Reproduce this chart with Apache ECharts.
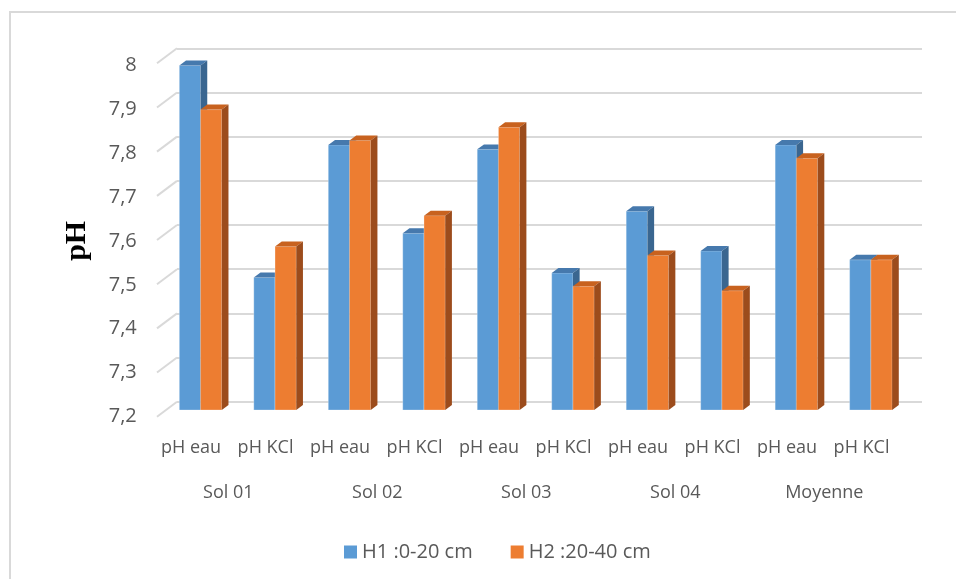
<!DOCTYPE html>
<html>
<head>
<meta charset="utf-8">
<script src="https://cdn.jsdelivr.net/npm/echarts@6/dist/echarts.min.js"></script>
<style>
  html, body { margin: 0; padding: 0; background: #fff; }
  #chart { width: 956px; height: 579px; }
</style>
</head>
<body>
<div id="chart"></div>
<script>
// donnees
var subCats = ['pH eau', 'pH KCl', 'pH eau', 'pH KCl', 'pH eau', 'pH KCl', 'pH eau', 'pH KCl', 'pH eau', 'pH KCl'];
var groups = ['Sol 01', 'Sol 02', 'Sol 03', 'Sol 04', 'Moyenne'];
var h1 = [7.98, 7.50, 7.80, 7.60, 7.79, 7.51, 7.65, 7.56, 7.80, 7.54];
var h2 = [7.88, 7.57, 7.81, 7.64, 7.84, 7.48, 7.55, 7.47, 7.77, 7.54];
var yTicks = [7.2, 7.3, 7.4, 7.5, 7.6, 7.7, 7.8, 7.9, 8];
var seriesNames = ['H1 :0-20 cm', 'H2 :20-40 cm'];

var YMIN = 7.2, YMAX = 8;
var txt = '#595959';
var font = 'Open Sans';

// couleurs face avant / dessus / cote
var faces = [
    { front: '#5b9bd5', top: '#4679ad', side: '#3a6690' },
    { front: '#ed7d31', top: '#c8621f', side: '#9c4c1c' }
];

function barRenderer(s) {
    return function (params, api) {
        var top = api.coord([api.value(0), api.value(1)]);
        var base = api.coord([api.value(0), YMIN]);
        var band = api.size([1, 0])[0];
        var w = band * 0.285;
        var dx = band * 0.09, dy = band * 0.067;
        var x0 = top[0] - w + s * w;
        var c = faces[s];
        return {
            type: 'group',
            children: [{
                type: 'rect',
                shape: { x: x0, y: top[1], width: w, height: base[1] - top[1] },
                style: { fill: c.front, stroke: 'rgba(255,255,255,0.35)', lineWidth: 0.8 }
            }, {
                type: 'polygon',
                shape: { points: [[x0, top[1]], [x0 + w, top[1]], [x0 + w + dx, top[1] - dy], [x0 + dx, top[1] - dy]] },
                style: { fill: c.top }
            }, {
                type: 'polygon',
                shape: { points: [[x0 + w, top[1]], [x0 + w + dx, top[1] - dy], [x0 + w + dx, base[1] - dy], [x0 + w, base[1]]] },
                style: { fill: c.side }
            }]
        };
    };
}

var chart = echarts.init(document.getElementById('chart'));
var option = {
    backgroundColor: '#fff',
    animation: false,
    graphic: [{
        type: 'rect',
        shape: { x: 10, y: 12, width: 1000, height: 700 },
        style: { fill: 'none', stroke: '#d9d9d9', lineWidth: 2 },
        silent: true
    }],
    legend: {
        data: seriesNames,
        left: 339,
        top: 537,
        icon: 'rect',
        itemWidth: 13,
        itemHeight: 13,
        itemGap: 38,
        textStyle: { color: txt, fontFamily: font, fontSize: 20 }
    },
    grid: [
        // paroi du fond (quadrillage)
        { left: 177, right: 34, top: 48.3, bottom: 177.3 },
        // plan des barres
        { left: 163.3, right: 47.9, top: 56.6, bottom: 169 },
        // plan avant (libelles)
        { left: 153.8, right: 57.2, top: 65, bottom: 162.3 }
    ],
    xAxis: [
        { gridIndex: 0, type: 'category', data: subCats, show: false },
        { gridIndex: 1, type: 'category', data: subCats, show: false },
        {
            gridIndex: 2, type: 'category', data: subCats, position: 'bottom',
            axisLine: { show: false }, axisTick: { show: false },
            axisLabel: { interval: 0, margin: 22, color: txt, fontFamily: font, fontSize: 18 }
        },
        {
            gridIndex: 2, type: 'category', data: groups, position: 'bottom',
            axisLine: { show: false }, axisTick: { show: false },
            axisLabel: { interval: 0, margin: 67, color: txt, fontFamily: font, fontSize: 18 }
        }
    ],
    yAxis: [
        {
            gridIndex: 0, type: 'value', min: YMIN, max: YMAX, interval: 0.1,
            axisLine: { show: false }, axisTick: { show: false }, axisLabel: { show: false },
            splitLine: { lineStyle: { color: '#d9d9d9', width: 2 } }
        },
        {
            gridIndex: 1, type: 'value', min: YMIN, max: YMAX, interval: 0.1, show: false,
            splitLine: { show: false }
        },
        {
            gridIndex: 2, type: 'value', min: YMIN, max: YMAX, interval: 0.1,
            axisLine: { show: false }, axisTick: { show: false },
            splitLine: { show: false },
            axisLabel: {
                margin: 17, color: txt, fontFamily: font, fontSize: 20,
                formatter: function (v) { return (Math.round(v * 10) / 10).toString().replace('.', ','); }
            },
            name: 'pH',
            nameLocation: 'middle',
            nameRotate: 90,
            nameGap: 62,
            nameTextStyle: { color: '#000', fontFamily: 'Liberation Serif', fontWeight: 'bold', fontSize: 30 }
        }
    ],
    series: [{
        // diagonales du plancher a gauche
        type: 'custom',
        xAxisIndex: 0, yAxisIndex: 0,
        silent: true,
        data: yTicks.map(function (v) { return [0, v]; }),
        renderItem: function (params, api) {
            var p = api.coord([0, api.value(1)]);
            var x = params.coordSys.x;
            return {
                type: 'line',
                shape: { x1: x - 20, y1: p[1] + 15, x2: x, y2: p[1] },
                style: { stroke: '#d9d9d9', lineWidth: 2 }
            };
        }
    }, {
        name: seriesNames[0],
        type: 'custom',
        xAxisIndex: 1, yAxisIndex: 1,
        itemStyle: { color: faces[0].front },
        data: h1.map(function (v, i) { return [i, v]; }),
        renderItem: barRenderer(0)
    }, {
        name: seriesNames[1],
        type: 'custom',
        xAxisIndex: 1, yAxisIndex: 1,
        itemStyle: { color: faces[1].front },
        data: h2.map(function (v, i) { return [i, v]; }),
        renderItem: barRenderer(1)
    }]
};
chart.setOption(option);
</script>
</body>
</html>
